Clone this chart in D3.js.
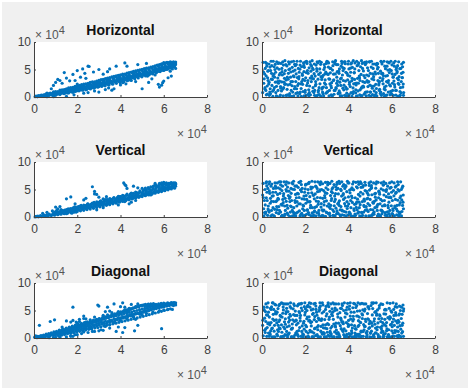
<!DOCTYPE html>
<html>
<head>
<meta charset="utf-8">
<script src="https://cdn.jsdelivr.net/npm/d3@7"></script>
<style>
html, body { margin: 0; padding: 0; background: #fff; }
text { font-family: "Liberation Sans", Arial, sans-serif; }
</style>
</head>
<body>
<svg id="chart"></svg>
<script>
const svgWidth = 471, svgHeight = 390;

const titles = ["Horizontal", "Vertical", "Diagonal"];
const xTicks = [0, 2, 4, 6, 8];
const yTicks = [0, 5, 10];

// points in units of 10^4 (times 100), written as x,y,x,y...
const horizontalLeft = [
5,5,10,15,15,5,20,25,25,10,30,20,35,35,40,15,45,40,50,25,55,55,60,30,65,50,70,35,75,70,80,45,85,65,90,30,95,85,100,55,
105,75,110,100,115,60,120,90,125,115,130,70,135,105,140,85,145,130,150,95,155,75,160,120,165,140,170,100,175,150,180,85,185,130,190,165,195,115,200,145,
205,175,210,125,215,160,220,190,225,135,230,205,235,170,240,145,245,215,250,185,255,155,260,235,265,200,270,170,275,250,280,220,285,185,290,265,295,235,300,200,
305,285,310,250,315,220,320,300,325,265,330,235,335,315,340,280,345,250,350,330,355,295,360,270,365,345,370,310,375,285,380,360,385,325,390,300,395,375,400,340,
405,315,410,390,415,355,420,335,425,405,430,370,435,345,440,420,445,385,450,360,455,435,460,400,465,380,470,450,475,420,480,395,485,465,490,435,495,410,500,480,
505,450,510,425,515,495,520,465,525,440,530,510,535,480,540,455,545,525,550,495,555,475,560,540,565,510,570,490,575,555,580,525,585,505,590,570,595,540,600,520,
605,585,610,555,615,540,620,600,625,575,630,560,635,615,640,590,645,575,650,625,655,600,655,635,650,610,645,640,635,630,625,620,615,630,605,610,600,625,590,595,
112,62,118,88,124,70,131,104,136,96,143,78,149,118,154,86,162,132,167,106,173,92,179,148,184,118,191,102,196,160,202,128,208,112,214,172,219,146,226,124,231,184,237,156,243,138,249,196,254,172,261,146,266,212,272,186,277,162,284,226,289,200,295,178,301,242,306,212,313,192,318,258,324,226,329,204,336,270,341,242,347,218,352,286,359,256,364,232,370,298,376,268,381,248,387,312,393,282,398,262,404,328,409,300,415,278,421,346,426,316,432,296,437,362,443,334,448,312,455,378,460,350,466,330,471,396,477,368,482,346,488,412,494,384,499,366,505,430,510,402,516,384,522,446,527,420,533,404,538,464,544,438,549,420,555,482,561,456,566,440,572,500,577,476,583,462,588,518,594,494,600,482,605,536,611,516,616,504,622,552,627,536,633,526,638,570,644,556,650,546,654,585,
8,12,16,8,24,18,31,28,37,18,44,22,51,38,57,22,63,44,69,30,76,58,82,36,88,66,95,44,101,74,107,52,
115,76,128,92,139,110,152,102,165,122,177,130,189,140,201,150,213,158,225,170,237,178,249,186,261,198,273,208,285,216,297,228,309,238,321,246,333,258,345,268,357,276,369,288,381,296,393,308,405,316,417,328,429,338,441,348,453,358,465,368,477,378,489,390,501,398,513,410,525,420,537,430,549,442,561,454,573,464,585,476,597,488,609,498,621,512,633,540,645,566,
130,115,155,135,182,165,206,190,228,208,252,230,276,250,300,268,322,290,344,310,368,328,392,352,414,372,438,394,462,416,486,438,510,460,534,482,558,504,582,532,606,560,630,586,650,600,
60,70,90,95,120,125,140,135,160,165,180,175,200,195,220,225,240,240,260,265,280,275,300,305,320,320,340,345,360,365,380,385,400,405,420,415,440,445,460,465,480,485,500,505,520,525,540,545,560,565,580,590,600,610,620,625,
70,60,100,100,130,130,150,150,170,170,190,195,210,210,230,235,250,250,270,275,290,290,310,315,330,335,350,355,370,375,390,395,410,415,430,435,450,455,470,475,490,495,510,515,530,530,550,555,570,580,590,605,610,620,630,640,
100,30,120,45,140,60,160,75,180,100,200,115,220,130,240,130,260,160,280,175,300,190,320,215,340,230,360,245,380,275,400,290,420,310,440,335,460,355,480,375,500,385,520,420,540,435,560,465,580,485,600,510,620,530,640,550,
// scatter away from the band
100,265,110,320,120,300,140,445,150,345,180,410,190,300,200,480,215,360,225,510,235,430,250,560,255,555,275,455,300,500,320,415,340,460,350,510,380,560,420,620,430,560,480,590,520,610,
80,150,90,210,130,250,165,295,200,235,240,340,60,5,90,5,150,10,185,40,230,70,250,80,280,110,300,90,330,135,345,165,370,150,360,125,400,220,450,300,425,240,500,150,530,265,575,230,
580,180,590,215,595,260,600,290,620,350,635,380,545,330,560,400,525,380,470,280,440,310,410,260,630,470,640,510,655,520
];
const horizontalRight = [
5,630,12,420,18,120,22,560,28,300,34,30,40,480,46,210,52,650,58,360,64,80,70,530,76,250,82,10,88,610,94,400,100,170,106,660,112,310,118,40,124,500,130,230,136,640,142,90,148,370,154,570,160,150,166,20,172,450,178,650,184,280,190,100,196,540,202,350,208,610,214,50,220,200,226,470,232,660,238,330,244,120,250,580,256,30,262,410,268,240,274,630,280,90,286,500,292,310,298,170,304,640,310,20,316,440,322,260,328,570,334,120,340,660,346,360,352,60,358,510,364,210,370,610,376,300,382,30,388,450,394,150,400,650,406,380,412,80,418,540,424,240,430,620,436,10,442,340,448,480,454,130,460,660,466,280,472,50,478,590,484,400,490,190,496,640,502,90,508,330,514,520,520,20,526,230,532,610,538,430,544,140,550,650,556,300,562,60,568,560,574,200,580,390,586,630,592,40,598,480,604,120,610,290,616,650,622,530,628,10,634,370,640,170,646,600,652,450,655,80,
8,250,15,520,20,40,26,350,32,600,38,150,44,430,50,10,56,550,62,270,68,640,74,120,80,400,86,190,92,520,98,20,104,340,110,590,116,140,122,430,128,60,134,280,140,540,146,650,152,190,158,420,164,80,170,330,176,580,182,10,188,230,194,460,200,120,206,650,212,300,218,530,224,40,230,380,236,170,242,600,248,280,254,470,260,90,266,650,272,10,278,360,284,180,290,540,296,70,302,420,308,620,314,240,320,40,326,490,332,310,338,120,344,590,350,210,356,430,362,20,368,650,374,160,380,520,386,290,392,70,398,600,404,230,410,450,416,10,422,660,428,320,434,130,440,570,446,250,452,40,458,410,464,610,470,180,476,350,482,20,488,530,494,280,500,90,506,650,512,420,518,200,524,40,530,580,536,300,542,120,548,470,554,630,560,240,566,10,572,380,578,560,584,90,590,220,596,650,602,420,608,30,614,180,620,500,626,340,632,640,638,100,644,280,650,550,654,30,
3,80,10,330,16,630,24,200,30,480,36,90,42,650,48,320,54,130,60,500,66,20,72,280,78,620,84,430,90,110,96,640,102,270,108,480,114,30,120,220,126,600,132,360,138,10,144,470,150,150,156,280,162,650,168,520,174,60,180,240,186,420,192,620,198,300,204,30,210,480,216,130,222,640,228,280,234,520,240,80,246,380,252,10,258,620,264,170,270,440,276,320,282,60,288,590,294,230,300,650,306,410,312,120,318,520,324,20,330,300,336,630,342,170,348,460,354,70,360,270,366,560,372,400,378,130,384,640,390,20,396,310,402,510,408,190,414,620,420,60,426,440,432,250,438,650,444,110,450,380,456,550,462,20,468,200,474,630,480,90,486,300,492,480,498,640,504,10,510,160,516,370,522,600,528,80,534,510,540,220,546,350,552,30,558,430,564,650,570,130,576,280,582,490,588,620,594,200,600,50,606,360,612,560,618,120,624,440,630,250,636,20,642,520,648,350,654,630,
14,170,21,610,27,470,33,270,39,60,45,570,51,380,57,170,63,450,69,10,75,610,81,290,87,160,93,460,99,580,105,230,111,30,117,360,123,640,129,510,135,120,141,280,147,20,153,490,159,590,165,210,171,370,177,90,183,550,189,320,195,20,201,640,207,210,213,430,219,80,225,590,231,340,237,500,243,30,249,230,255,640,261,120,267,510,273,370,279,170,285,20,291,420,297,610,303,100,309,330,315,520,321,170,327,640,333,50,339,420,345,250,351,590,357,110,363,330,369,20,375,480,381,640,387,180,393,430,399,20,405,270,411,600,417,340,423,100,429,510,435,220,441,20,447,620,453,300,459,160,465,520,471,390,477,80,483,640,489,270,495,30,501,430,507,200,513,600,519,110,525,420,531,20,537,540,543,280,549,90,555,600,561,390,567,180,573,30,579,640,585,300,591,500,597,70,603,250,609,620,615,410,621,120,627,570,633,230,639,30,645,430,651,180,
7,455,13,145,19,385,25,55,31,235,37,545,43,325,49,105,55,415,61,595,67,195,73,345,79,505,85,35,91,275,97,145,103,425,109,235,115,565,121,325,127,25,133,455,139,205,145,385,151,595,157,65,163,355,169,245,175,505,181,155,187,395,193,575,199,85,205,445,211,255,217,25,223,345,229,565,235,105,241,425,247,205,253,515,259,325,265,45,271,595,277,145,283,395,289,255,295,455,301,85,307,545,313,325,319,205,325,25,331,415,337,605,343,155,349,295,355,465,361,75,367,345,373,535,379,215,385,605,391,145,397,395,403,45,409,525,415,295,421,165,427,445,433,75,439,255,445,585,451,345,457,25,463,185,469,475,475,265,481,615,487,95,493,385,499,215,505,545,511,45,517,315,523,455,529,155,535,605,541,255,547,65,553,425,559,335,565,145,571,515,577,35,583,265,589,445,595,105,601,585,607,365,613,225,619,35,625,465,631,315,637,515,643,75,649,355,653,235
];
const verticalLeft = [
5,2,12,8,20,4,28,14,35,8,42,20,50,14,58,30,65,20,72,38,80,26,88,48,95,34,102,56,110,42,118,68,125,50,132,78,140,60,148,90,155,68,162,98,170,80,178,110,185,88,192,122,200,100,208,132,215,112,222,145,230,122,238,158,245,135,252,170,260,145,268,182,275,158,282,195,290,172,298,208,305,185,312,220,320,198,328,232,335,212,342,245,350,225,358,258,365,240,372,270,380,252,388,285,395,268,402,298,410,282,418,312,425,298,432,325,440,312,448,340,455,328,462,355,470,342,478,370,485,358,492,385,500,372,508,400,515,388,522,415,530,402,538,430,545,418,552,445,560,432,568,460,575,448,582,475,590,462,598,490,605,478,612,505,620,495,628,520,635,510,642,535,650,525,655,560,655,610,650,580,645,620,640,560,630,600,620,555,610,590,600,540,
10,10,18,18,30,25,40,12,48,36,60,40,70,55,85,45,100,75,115,90,130,100,145,115,160,130,175,145,190,160,205,175,220,190,235,205,250,220,265,235,280,250,295,265,310,280,325,295,340,310,355,325,370,340,385,355,400,370,415,385,430,400,445,415,460,430,475,445,490,460,505,475,520,490,535,505,550,520,565,535,580,550,595,565,610,580,625,595,640,605,652,620,655,590,648,600,635,625,622,610,612,620,602,600,590,600,578,585,565,575,552,560,540,550,528,535,515,525,
105,120,125,135,142,125,158,150,172,130,188,185,203,158,218,210,232,170,248,240,262,195,278,265,292,220,306,290,322,245,338,315,352,270,368,345,382,300,398,370,412,330,428,395,442,360,458,420,472,390,488,445,502,420,518,465,532,445,548,490,562,470,578,515,592,500,608,535,622,525,638,560,648,545,
92,68,108,82,122,104,136,112,151,108,166,142,181,168,196,150,211,192,226,178,241,212,256,208,271,240,286,226,301,262,316,258,331,288,346,272,361,308,376,296,391,330,406,320,421,352,436,344,451,378,466,366,481,398,496,390,511,424,526,416,541,448,556,446,571,476,586,480,601,508,616,520,631,542,646,570,
98,92,113,70,127,118,141,92,156,132,171,118,186,146,201,184,216,166,231,196,246,186,261,222,276,208,291,244,306,236,321,270,336,258,351,296,366,282,381,320,396,306,411,344,426,330,441,372,456,352,471,410,486,376,501,438,516,402,531,460,546,434,561,492,576,462,591,530,606,502,621,566,636,540,651,596,
90,75,110,95,130,115,150,135,170,155,190,175,210,195,230,215,250,235,270,255,290,275,310,295,330,315,350,335,370,355,390,375,410,395,430,415,450,435,470,455,490,475,510,495,530,515,550,535,570,555,590,580,610,600,630,615,
120,60,140,80,160,100,180,115,200,135,220,155,240,170,260,195,280,215,300,235,320,255,340,270,360,295,380,315,400,335,420,355,440,375,460,395,480,415,500,435,520,455,540,480,560,500,580,520,600,545,620,565,640,585,
// scatter away from the band
270,550,280,465,280,420,290,410,300,360,320,330,335,370,150,330,170,365,190,240,230,310,240,340,290,130,320,170,390,220,420,280,440,240,450,270,470,300,415,620,420,590,425,570,460,560,480,530,430,520,500,520,540,400,545,420,150,60,175,70,195,90,110,150,85,110,60,85,40,65,100,180,120,190,560,580,590,620,580,610,600,630,560,610
];
const verticalRight = [
5,610,11,300,17,90,23,450,29,200,35,640,41,20,47,380,53,520,59,140,65,280,71,620,77,60,83,430,89,230,95,560,101,10,107,340,113,640,119,160,125,470,131,90,137,300,143,600,149,30,155,410,161,200,167,540,173,110,179,650,185,330,191,20,197,450,203,250,209,600,215,80,221,370,227,510,233,170,239,30,245,640,251,290,257,460,263,120,269,590,275,10,281,340,287,220,293,630,299,80,305,500,311,180,317,390,323,650,329,30,335,280,341,550,347,110,353,420,359,610,365,190,371,40,377,320,383,520,389,90,395,650,401,240,407,440,413,20,419,600,425,150,431,350,437,550,443,70,449,270,455,640,461,10,467,420,473,190,479,580,485,330,491,100,497,490,503,640,509,30,515,250,521,420,527,600,533,120,539,350,545,10,551,510,557,200,563,640,569,80,575,370,581,560,587,270,593,20,599,450,605,150,611,620,617,320,623,40,629,500,635,220,641,640,647,100,653,400,
8,150,14,500,20,350,26,30,32,600,38,250,44,120,50,450,56,20,62,560,68,190,74,340,80,640,86,90,92,480,98,260,104,30,110,590,116,210,122,390,128,10,134,520,140,120,146,650,152,300,158,70,164,430,170,240,176,20,182,590,188,150,194,380,200,510,206,50,212,280,218,630,224,170,230,440,236,20,242,330,248,560,254,80,260,230,266,470,272,640,278,130,284,20,290,390,296,530,302,200,308,60,314,610,320,300,326,440,332,100,338,20,344,500,350,240,356,650,362,130,368,380,374,560,380,30,386,200,392,460,398,620,404,90,410,300,416,530,422,10,428,230,434,630,440,130,446,410,452,20,458,540,464,280,470,90,476,630,482,190,488,430,494,20,500,320,506,570,512,130,518,50,524,360,530,640,536,230,542,450,548,20,554,120,560,580,566,300,572,480,578,40,584,170,590,620,596,350,602,60,608,480,614,200,620,560,626,110,632,20,638,350,644,500,650,210,
3,400,9,20,15,220,21,640,27,520,33,90,39,340,45,600,51,170,57,10,63,450,69,300,75,530,81,120,87,640,93,30,99,380,105,200,111,500,117,70,123,620,129,280,135,430,141,20,147,170,153,560,159,350,165,90,171,630,177,240,183,460,189,20,195,120,201,580,207,320,213,500,219,40,225,210,231,650,237,400,243,110,249,20,255,520,261,280,267,620,273,180,279,30,285,480,291,350,297,90,303,630,309,240,315,20,321,460,327,130,333,590,339,320,345,60,351,520,357,210,363,20,369,640,375,400,381,100,387,570,393,280,399,40,405,490,411,170,417,350,423,640,429,20,435,240,441,530,447,90,453,380,459,610,465,30,471,210,477,480,483,130,489,340,495,620,501,20,507,530,513,270,519,90,525,430,531,180,537,630,543,30,549,320,555,60,561,490,567,220,573,610,579,10,585,420,591,120,597,540,603,300,609,20,615,170,621,450,627,640,633,90,639,260,645,20,651,560,
12,80,18,620,24,300,30,120,36,430,42,560,48,40,54,280,60,620,66,80,72,410,78,190,84,510,90,10,96,320,102,640,108,120,114,470,120,40,126,340,132,200,138,620,144,90,150,500,156,20,162,280,168,420,174,630,180,50,186,520,192,200,198,30,204,390,210,130,216,610,222,280,228,20,234,540,240,90,246,420,252,190,258,640,264,30,270,350,276,500,282,110,288,280,294,10,300,430,306,620,312,70,318,210,324,510,330,30,336,380,342,160,348,630,354,260,360,40,366,480,372,110,378,590,384,350,390,20,396,200,402,620,408,60,414,380,420,500,426,120,432,30,438,270,444,640,450,170,456,450,462,80,468,570,474,290,480,20,486,130,492,400,498,210,504,520,510,40,516,620,522,170,528,310,534,20,540,470,546,240,552,620,558,100,564,400,570,30,576,500,582,210,588,60,594,360,600,640,606,120,612,20,618,430,624,210,630,590,636,60,642,380,648,530,654,150,
6,355,16,65,22,565,28,145,34,475,44,285,52,385,64,525,70,135,76,325,86,585,94,215,100,425,106,55,112,285,118,545,130,365,136,185,142,505,148,75,154,265,160,565,172,355,178,495,184,65,190,215,196,325,202,595,208,125,214,435,220,275,226,545,232,75,238,395,244,175,250,555,256,355,262,65,268,495,274,245,280,605,286,125,292,445,298,295,304,585,310,55,316,155,322,335,328,535,334,205,340,425,346,595,352,65,358,295,364,505,370,125,376,425,382,245,388,555,394,155,400,365,406,65,412,505,418,265,424,495,430,55,436,175,442,325,448,595,454,225,460,85,466,545,472,325,478,125,484,465,490,245,496,575,502,135,508,405,514,65,520,285,526,525,532,205,538,55,544,415,550,125,556,295,562,585,568,205,574,465,580,95,586,355,592,525,598,205,604,55,610,385,616,545,622,145,628,305,634,475,640,85,646,310,652,270
];
const diagonalLeft = [
3,15,8,40,14,5,20,25,26,10,32,45,38,15,44,55,50,25,56,70,62,30,68,80,74,40,80,95,86,50,92,110,98,55,104,120,110,65,116,130,122,75,128,145,134,85,140,155,146,95,152,165,158,105,164,185,170,115,176,195,182,125,188,210,194,130,200,225,206,145,212,235,218,155,224,250,230,165,236,260,242,175,248,275,254,190,260,285,266,200,272,300,278,210,284,310,290,225,296,325,302,235,308,335,314,250,320,345,326,260,332,360,338,275,344,370,350,290,356,385,362,300,368,395,374,315,380,405,386,330,392,420,398,345,404,430,410,360,416,445,422,375,428,455,434,390,440,465,446,405,452,475,458,420,464,490,470,435,476,500,482,445,488,515,494,460,500,525,506,470,512,535,518,485,524,545,530,495,536,560,542,510,548,570,554,525,560,580,566,535,572,595,578,550,584,600,590,560,596,610,602,570,608,620,614,580,620,630,626,590,632,635,638,600,644,640,650,610,655,640,655,600,650,630,645,590,
10,25,16,30,24,30,30,20,36,35,42,30,48,40,54,40,60,55,66,50,72,65,78,60,84,70,90,75,96,85,102,85,108,90,114,100,120,105,126,110,132,120,138,125,144,130,150,140,156,145,162,150,168,160,174,170,180,175,186,180,192,190,198,195,204,205,210,210,216,220,222,225,228,230,234,240,240,245,246,255,252,260,258,265,264,275,270,280,276,290,282,295,288,305,294,315,300,320,306,330,312,340,318,345,324,355,330,365,336,370,342,380,348,390,354,395,360,405,366,415,372,420,378,430,384,440,390,445,396,455,402,465,408,470,414,480,420,490,426,500,432,505,438,515,444,525,450,530,456,540,462,550,468,555,474,565,480,570,486,580,492,590,498,595,504,600,510,605,516,610,522,590,528,615,534,575,540,620,546,590,552,625,558,570,564,610,570,590,576,620,582,570,588,630,594,585,600,635,606,600,612,610,618,640,624,605,630,620,636,645,642,625,648,645,654,620,
113,40,127,52,141,62,155,78,169,86,183,94,197,110,211,122,225,130,239,145,253,158,267,168,281,182,295,190,309,205,323,218,337,232,351,245,365,258,379,270,393,285,407,298,421,312,435,325,449,340,463,352,477,365,491,380,505,395,519,410,533,425,547,440,561,455,575,470,589,485,603,500,617,515,631,530,
117,145,133,165,149,180,163,200,177,215,191,235,205,250,219,265,233,280,247,295,261,310,275,325,289,340,303,355,317,370,331,385,345,405,359,420,373,440,387,455,401,475,415,495,429,510,443,530,457,545,471,560,485,570,499,585,513,575,527,590,541,600,555,610,
100,65,120,80,140,100,160,125,180,140,200,160,220,180,240,200,260,220,280,240,300,265,320,280,340,300,360,320,380,345,400,365,420,385,440,410,460,430,480,450,500,470,520,500,540,520,560,545,580,565,600,585,620,600,640,615,
110,85,130,100,150,120,170,140,190,165,210,185,230,205,250,225,270,245,290,265,310,285,330,305,350,325,370,350,390,370,410,390,430,410,450,430,470,450,490,475,510,495,530,520,550,540,570,560,590,580,
// scatter away from the band
25,230,75,300,95,330,130,200,150,310,170,290,180,320,165,180,200,270,195,290,210,340,230,355,230,400,170,45,180,30,190,60,180,560,240,350,295,600,300,580,310,300,320,400,330,480,340,560,370,620,410,640,430,470,440,510,460,380,470,340,490,430,590,170,460,390,350,180,310,150,320,140,270,120,260,170,230,110,380,120,410,100,390,200,465,130,480,230,420,190,
50,10,70,5,90,10,100,15,120,15,150,20,170,30,200,60,220,80,250,100,280,120,300,130,330,210,350,240,370,280,400,320,430,350,450,400,500,420,520,450,550,470,580,500,600,510,620,520,640,520,
210,300,240,290,260,330,280,380,300,350,320,410,340,420,360,460,390,480,420,510,440,540,470,570,500,590,530,610,480,620,450,610,400,570,350,490,420,560
];
const diagonalRight = [
6,40,12,360,18,620,24,190,30,470,36,90,42,280,48,640,54,520,60,20,66,330,72,150,78,590,84,410,90,240,96,30,102,620,108,350,114,120,120,480,126,220,132,640,138,20,144,530,150,300,156,90,162,410,168,610,174,190,180,30,186,500,192,270,198,640,204,120,210,380,216,10,222,560,228,220,234,430,240,90,246,630,252,300,258,150,264,490,270,20,276,350,282,600,288,80,294,240,300,440,306,640,312,30,318,180,324,530,330,340,336,110,342,620,348,20,354,270,360,460,366,170,372,590,378,60,384,380,390,510,396,20,402,230,408,640,414,130,420,310,426,470,432,50,438,590,444,210,450,380,456,20,462,630,468,120,474,490,480,300,486,60,492,560,498,190,504,10,510,420,516,640,522,250,528,90,534,510,540,350,546,20,552,170,558,610,564,440,570,80,576,280,582,20,588,540,594,370,600,130,606,640,612,230,618,460,624,40,630,320,636,580,642,160,648,430,654,30,
9,560,15,100,21,420,27,260,33,30,39,540,45,170,51,640,57,320,63,480,69,70,75,230,81,610,87,20,93,380,99,510,105,170,111,620,117,60,123,290,129,430,135,20,141,180,147,620,153,410,159,240,165,60,171,480,177,310,183,630,189,20,195,160,201,530,207,350,213,90,219,640,225,280,231,20,237,450,243,170,249,580,255,60,261,360,267,520,273,210,279,640,285,100,291,20,297,400,303,260,309,570,315,120,321,30,327,470,333,620,339,220,345,80,351,380,357,20,363,540,369,290,375,120,381,640,387,30,393,440,399,210,405,580,411,70,417,20,423,340,429,620,435,160,441,490,447,30,453,290,459,110,465,420,471,620,477,210,483,20,489,350,495,530,501,90,507,270,513,630,519,20,525,180,531,440,537,60,543,590,549,300,555,130,561,20,567,510,573,220,579,640,585,60,591,390,597,20,603,290,609,520,615,100,621,620,627,200,633,420,639,30,645,560,651,270,
3,230,16,480,22,30,28,640,34,380,40,130,46,20,52,430,58,230,64,600,70,470,76,120,82,330,88,20,94,630,100,200,106,60,112,480,118,20,124,370,130,570,136,160,142,330,148,20,154,490,160,70,166,270,172,620,178,410,184,120,190,20,196,570,202,230,208,500,214,30,220,320,226,630,232,110,238,20,244,390,250,520,256,200,262,20,268,640,274,320,280,70,286,480,292,180,298,20,304,600,310,340,316,90,322,430,328,640,334,20,340,200,346,510,352,100,358,30,364,360,370,620,376,260,382,20,388,130,394,560,400,320,406,30,412,470,418,180,424,630,430,90,436,20,442,400,448,230,454,620,460,30,466,510,472,150,478,340,484,20,490,570,496,260,502,90,508,640,514,30,520,350,526,480,532,150,538,20,544,420,550,620,556,220,562,60,568,340,574,510,580,20,586,150,592,630,598,250,604,30,610,410,616,570,622,130,628,20,634,290,640,500,646,90,652,600,
12,140,18,300,24,560,30,90,36,240,42,520,48,180,54,20,60,610,66,440,72,40,78,300,84,170,90,640,96,450,102,30,108,250,114,540,120,620,126,90,132,400,138,170,144,20,150,590,156,320,162,120,168,30,174,460,180,620,186,220,192,60,198,420,204,20,210,570,216,310,222,140,228,510,234,20,240,620,246,180,252,470,258,30,264,330,270,580,276,100,282,240,288,20,294,520,300,170,306,50,312,380,318,620,324,210,330,20,336,500,342,270,348,90,354,620,360,20,366,330,372,140,378,500,384,20,390,280,396,630,402,80,408,400,414,240,420,550,426,20,432,170,438,400,444,640,450,70,456,280,462,440,468,30,474,210,480,620,486,120,492,340,498,20,504,590,510,220,516,60,522,470,528,640,534,200,540,20,546,400,552,100,558,280,564,30,570,520,576,130,582,370,588,20,594,240,600,470,606,90,612,30,618,310,624,560,630,120,636,440,642,20,648,230,654,490,
4,325,10,515,17,165,26,415,32,275,38,65,44,565,50,345,56,125,62,445,68,275,74,535,80,185,86,395,92,105,98,565,104,295,110,445,116,205,122,65,128,325,134,545,140,255,146,425,152,55,158,325,164,585,170,135,176,365,182,545,188,75,194,305,200,465,206,205,212,595,218,385,224,115,230,295,236,525,242,335,248,45,254,415,260,225,266,555,272,125,278,455,284,185,290,335,296,575,302,105,308,245,314,485,320,75,326,405,332,255,338,545,344,145,350,435,356,65,362,225,368,535,374,295,380,165,386,455,392,65,398,255,404,525,410,345,416,95,422,395,428,225,434,555,440,65,446,315,452,495,458,125,464,355,470,245,476,525,482,95,488,445,494,175,500,305,506,125,512,535,518,305,524,95,530,415,536,275,542,545,548,195,554,355,560,115,566,245,572,435,578,165,584,55,590,345,596,495,602,205,608,345,614,135,620,415,626,275,632,55,638,225,644,355,650,115,655,530
];

const panelData = [
  [horizontalLeft, horizontalRight],
  [verticalLeft, verticalRight],
  [diagonalLeft, diagonalRight]
];

const columnLeft = [34, 262];
const rowTop = [42, 162, 283];
const plotWidth = 173, plotHeight = 55;

const xScale = d3.scaleLinear().domain([0, 8]).range([0, plotWidth]);
const yScale = d3.scaleLinear().domain([0, 10]).range([plotHeight, 0]);

const xAxis = d3.axisBottom(xScale).tickValues(xTicks).tickFormat(d3.format("d")).tickSizeInner(-2).tickSizeOuter(0).tickPadding(7);
const yAxis = d3.axisLeft(yScale).tickValues(yTicks).tickFormat(d3.format("d")).tickSizeInner(-2).tickSizeOuter(0).tickPadding(3);

const chart = d3.select("#chart")
    .attr("width", svgWidth)
    .attr("height", svgHeight)
    .style("display", "block");

chart.append("rect")
    .attr("x", 2).attr("y", 2)
    .attr("width", svgWidth - 5).attr("height", svgHeight - 4)
    .attr("fill", "#f0f0f0");

function exponent(g, x, y) {
    const t = g.append("text").attr("x", x).attr("y", y)
        .attr("font-size", 12).attr("fill", "#555");
    t.append("tspan").text("\u00d7 10");
    t.append("tspan").attr("dy", -5).attr("font-size", 11).text("4");
}

function toPairs(flat) {
    const pairs = [];
    for (let i = 0; i < flat.length; i += 2) {
        pairs.push({x: flat[i] / 100, y: flat[i + 1] / 100});
    }
    return pairs;
}

titles.forEach(function(title, row) {
    columnLeft.forEach(function(left, col) {
        const g = chart.append("g").attr("transform", `translate(${left},${rowTop[row]})`);

        g.append("rect").attr("width", plotWidth).attr("height", plotHeight).attr("fill", "#fff");

        g.selectAll(".dot")
            .data(toPairs(panelData[row][col]))
            .enter()
            .append("circle")
            .attr("class", "dot")
            .attr("cx", function(d) { return xScale(d.x); })
            .attr("cy", function(d) { return yScale(d.y); })
            .attr("r", 1.6)
            .attr("fill", "#0072bd");

        const gx = g.append("g").attr("transform", `translate(0,${plotHeight})`).call(xAxis);
        const gy = g.append("g").call(yAxis);
        [gx, gy].forEach(function(axis) {
            axis.selectAll("path, line").attr("stroke", "#404040");
            axis.selectAll("text").attr("font-size", 12).attr("fill", "#404040");
            axis.attr("font-family", null);
        });

        g.append("text")
            .attr("x", plotWidth / 2)
            .attr("y", -7)
            .attr("text-anchor", "middle")
            .attr("font-size", 14)
            .attr("font-weight", "bold")
            .attr("fill", "#111")
            .text(title);

        exponent(g, 1, -3);
        exponent(g, plotWidth - 30, plotHeight + 41);
    });
});
</script>
</body>
</html>
